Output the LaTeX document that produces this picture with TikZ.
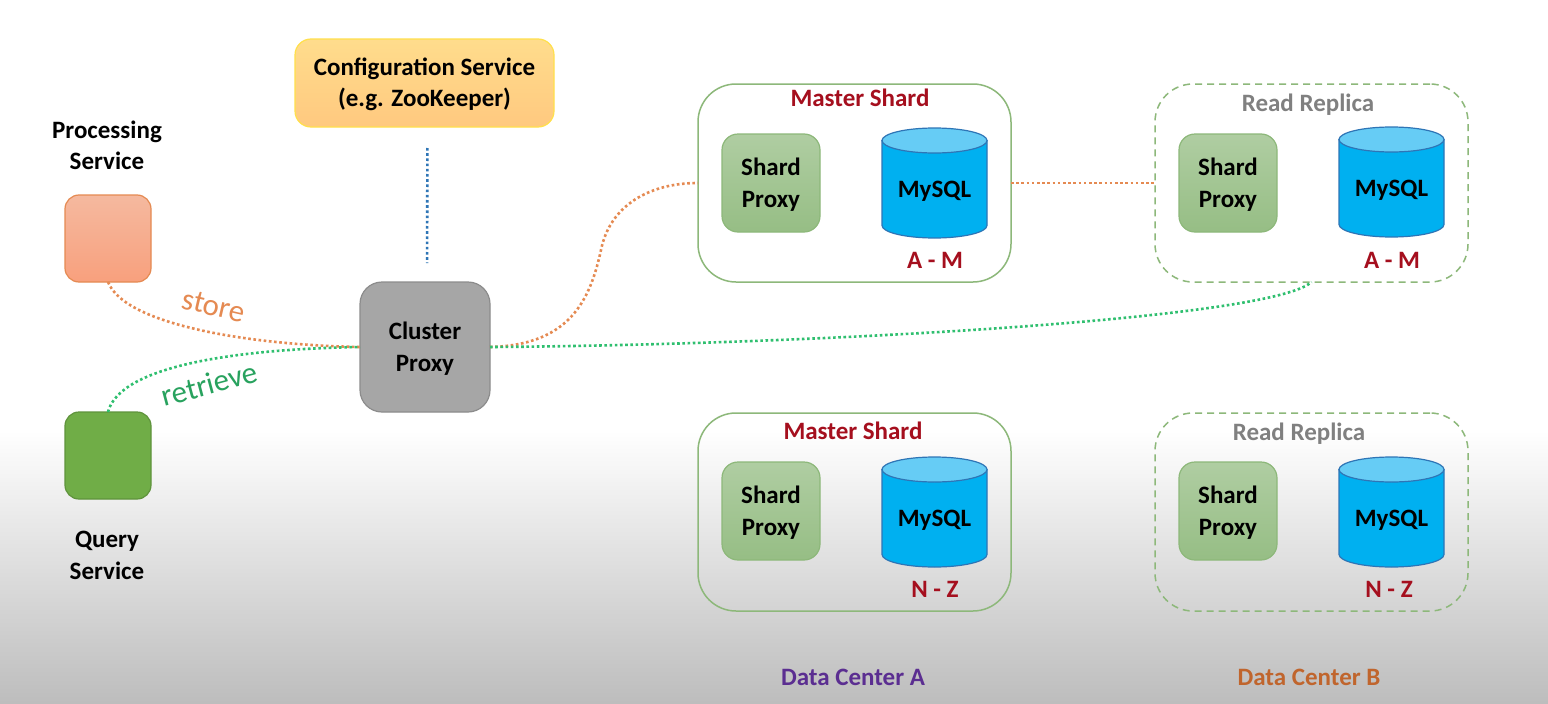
\documentclass[tikz,border=0pt]{standalone}
\usepackage{fontspec}
\setmainfont{Carlito}
\definecolor{darkred}{HTML}{A50F1E}
\definecolor{boxgreen}{HTML}{8DB87A}
\definecolor{dotorange}{HTML}{E58A52}
\definecolor{dotgreen}{HTML}{2FBF6F}
\definecolor{dbbody}{HTML}{00B0F0}
\definecolor{dbend}{HTML}{66CCF5}
\definecolor{dbline}{HTML}{2E75B6}
\definecolor{querygreen}{HTML}{70AD47}
\definecolor{procend}{HTML}{F5B99F}
\definecolor{procbase}{HTML}{F8A07D}
\definecolor{centerpurple}{HTML}{5B2E91}
\definecolor{centerbrown}{HTML}{C0652D}
\newcommand{\up}{\rule{0pt}{20.5pt}}
\tikzset{
	txt/.style={font=\fontsize{25}{31.5}\selectfont\bfseries, align=center, inner sep=0pt, outer sep=0pt},
	title/.style={txt, text=darkred},
	shardbox/.style={rectangle, draw=boxgreen, line width=1.5pt, rounded corners=38pt, minimum width=313pt, minimum height=198pt, outer sep=0pt},
	replicabox/.style={shardbox, dash pattern=on 7pt off 5pt},
	proxybox/.style={txt, rectangle, draw=boxgreen, line width=1.2pt, rounded corners=16pt, minimum width=98pt, minimum height=98pt, top color=boxgreen!70!white, bottom color=boxgreen!92!white},
	dots/.style={line width=2.6pt, dash pattern=on 2.6pt off 2.6pt},
	wordlabel/.style={font=\fontsize{31}{31}\selectfont, inner sep=0pt},
	dbcyl/.pic={
		\draw[draw=dbline, fill=dbbody, line width=1.2pt] (-52.5,-42.5) -- (-52.5,42.5) arc[start angle=180, end angle=0, x radius=52.5, y radius=12.5] -- (52.5,-42.5) -- cycle;
		\draw[draw=dbline, fill=dbend, line width=1.2pt] (0,-42.5) ellipse[x radius=52.5, y radius=12.5];
	},
}
\begin{document}
\begin{tikzpicture}[x=1pt,y=-1pt]
	\useasboundingbox (0,0) rectangle (1548,704);
	\fill[white] (0,0) rectangle (1548,704);
	\shade[top color=white, bottom color=black!26] (0,430) rectangle (1548,704);
	
	\node[txt, rectangle, draw=orange!35!yellow!70!white, line width=1.2pt, rounded corners=16pt, minimum width=259pt, minimum height=88pt, top color=orange!60!yellow!45!white, bottom color=orange!85!yellow!50!white] (config) at (424.5,83) {\up Configuration Service\\(e.g. ZooKeeper)};
	\node[txt, rectangle, draw=black!45, line width=1.2pt, rounded corners=22pt, minimum width=130pt, minimum height=130pt, fill=black!35] (cluster) at (425,347) {\up Cluster\\Proxy};
	
	\node[rectangle, draw=dotorange, line width=1.2pt, rounded corners=14pt, minimum width=86pt, minimum height=87pt, outer sep=0pt, top color=procend, bottom color=procbase] (processing) at (108,238.5) {};
	\node[rectangle, draw=querygreen!85!black, line width=1.2pt, rounded corners=14pt, minimum width=86pt, minimum height=87pt, outer sep=0pt, fill=querygreen] (query) at (108,455.5) {};
	\node[txt] (processinglabel) at (107,145.5) {Processing\\Service};
	\node[txt] (querylabel) at (107,555.5) {Query\\Service};
	
	% data center A
	\node[shardbox] (masterA) at (854.5,183) {};
	\node[title] (masterAtitle) at (860,98) {Master Shard};
	\node[proxybox] (proxyA) at (771,183) {\up Shard\\Proxy};
	\pic at (934.5,183) {dbcyl};
	\node[txt] (mysqlA) at (934.5,191) {MySQL};
	\node[title] (rangeA) at (935,260) {A - M};
	
	\node[shardbox] (masterN) at (854.5,512) {};
	\node[title] (masterNtitle) at (853,431) {Master Shard};
	\node[proxybox] (proxyN) at (771,511) {\up Shard\\Proxy};
	\pic at (934.5,512) {dbcyl};
	\node[txt] (mysqlN) at (934.5,520) {MySQL};
	\node[title] (rangeN) at (935,589) {N - Z};
	
	% data center B
	\node[replicabox] (replicaA) at (1311.5,183) {};
	\node[txt, text=black!50] (replicaAtitle) at (1308,105) {Read Replica};
	\node[proxybox] (proxyRA) at (1228,183) {\up Shard\\Proxy};
	\pic at (1391.5,182) {dbcyl};
	\node[txt] (mysqlRA) at (1391.5,190) {MySQL};
	\node[title] (rangeRA) at (1392,260) {A - M};
	
	\node[replicabox] (replicaN) at (1311.5,512) {};
	\node[txt, text=black!50] (replicaNtitle) at (1299,434) {Read Replica};
	\node[proxybox] (proxyRN) at (1228,511) {\up Shard\\Proxy};
	\pic at (1391.5,512) {dbcyl};
	\node[txt] (mysqlRN) at (1391.5,520) {MySQL};
	\node[title] (rangeRN) at (1389,589) {N - Z};
	
	\node[txt, text=centerpurple] (centerA) at (853,677) {Data Center A};
	\node[txt, text=centerbrown] (centerB) at (1309,677) {Data Center B};
	
	% dotted connectors
	\coordinate (bend) at (601,250);
	\draw[dots, draw=dbline, shorten <=21pt, shorten >=19pt] ([xshift=3pt]config.south) -- ([xshift=2pt]cluster.north);
	\draw[dots, draw=dotorange] (processing.south) .. controls (125,325) and (250,345) .. (cluster.west);
	\draw[dots, draw=dotorange] (cluster.east) .. controls (570,345) and (590,300) .. (bend) .. controls (610,205) and (650,183) .. (masterA.west);
	\draw[dots, draw=dotorange] (masterA.east) -- (replicaA.west);
	\draw[dots, draw=dotgreen] (query.north) .. controls (120,365) and (240,349) .. (cluster.west);
	\draw[dots, draw=dotgreen] (cluster.east) .. controls (800,345) and (1270,320) .. (replicaA.south);
	
	\node[wordlabel, text=dotorange, rotate=-13] (store) at (214,306) {store};
	\node[wordlabel, text=dotgreen!85!black, rotate=15] (retrieve) at (209,384) {retrieve};
\end{tikzpicture}
\end{document}
